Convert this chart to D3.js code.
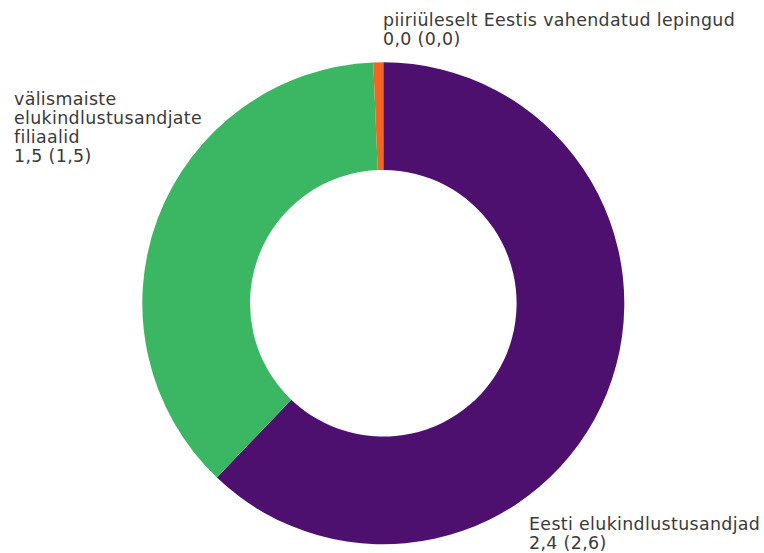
<!DOCTYPE html>
<html>
<head>
<meta charset="utf-8">
<script src="https://cdn.jsdelivr.net/npm/d3@7"></script>
<style>
  html, body { margin: 0; padding: 0; background: #fff; }
  svg { display: block; }
  text { font-family: "DejaVu Sans", sans-serif; fill: #3a3a3a; }
</style>
</head>
<body>
<svg id="chart" width="764" height="553"></svg>
<script>
// Data (ordered clockwise from 12 o'clock)
const categories = ["Eesti elukindlustusandjad", "välismaiste elukindlustusandjate filiaalid", "piiriüleselt Eestis vahendatud lepingud"];
const values = [2.43, 1.455, 0.026];
const valueLabels = ["2,4 (2,6)", "1,5 (1,5)", "0,0 (0,0)"];
const labelLines = [
  ["Eesti elukindlustusandjad"],
  ["välismaiste", "elukindlustusandjate", "filiaalid"],
  ["piiriüleselt Eestis vahendatud lepingud"]
];
const colors = ["#4e106f", "#3bb763", "#f26522"];

// Layout
const width = 764, height = 553;
const cx = 383.3, cy = 303.3;
const outerR = 241, innerR = 133.3;
const fontSize = 17.4, lineH = 19, letterSp = 0.35;
const labelAnchors = [
  {x: 529, y: 529.5},
  {x: 14, y: 105.3},
  {x: 383, y: 26}
];

const svg = d3.select("#chart");
const g = svg.append("g").attr("transform", `translate(${cx},${cy})`);

const pie = d3.pie().sort(null).value(d => d)(values);
const arc = d3.arc().innerRadius(innerR).outerRadius(outerR);

g.selectAll("path").data(pie).join("path")
  .attr("d", arc)
  .attr("fill", (d, i) => colors[i]);

const labels = svg.append("g");
labelLines.forEach((lines, i) => {
  const all = lines.concat([valueLabels[i]]);
  const t = labels.append("text")
    .attr("x", labelAnchors[i].x)
    .attr("y", labelAnchors[i].y)
    .style("font-size", fontSize + "px")
    .style("letter-spacing", letterSp + "px");
  all.forEach((ln, j) => {
    t.append("tspan").attr("x", labelAnchors[i].x).attr("dy", j === 0 ? 0 : lineH).text(ln);
  });
});
</script>
</body>
</html>
